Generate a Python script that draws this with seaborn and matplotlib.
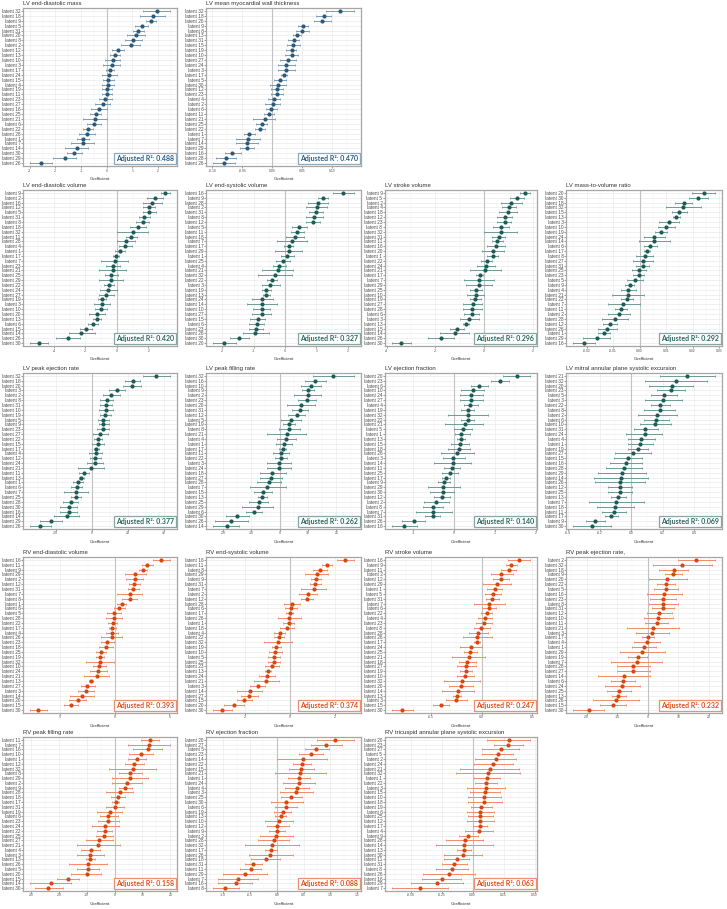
import numpy as np
import pandas as pd
import matplotlib
matplotlib.use("Agg")
import matplotlib.pyplot as plt
import seaborn as sns
from matplotlib.ticker import AutoMinorLocator

# ---------------- data ----------------
# LV end-diastolic mass
a_lat = [32, 18, 9, 5, 31, 20, 8, 2, 12, 13, 10, 3, 17, 24, 15, 4, 19, 11, 23, 27, 16, 25, 21, 6, 22, 28, 1, 7, 14, 30, 29, 26]
a_b = [1.95, 1.79, 1.73, 1.36, 1.23, 1.14, 1.04, 0.94, 0.45, 0.32, 0.23, 0.21, 0.13, 0.09, 0.06, 0.05, 0.01, 0.00, -0.05, -0.16, -0.31, -0.43, -0.45, -0.48, -0.71, -0.75, -0.91, -0.94, -1.17, -1.27, -1.62, -2.57]
a_lo = [1.43, 1.30, 1.53, 1.10, 1.04, 0.78, 0.71, 0.56, 0.22, 0.13, -0.06, -0.13, -0.03, -0.19, -0.16, -0.19, -0.19, -0.19, -0.29, -0.45, -0.62, -0.65, -0.94, -0.75, -0.91, -1.06, -1.14, -1.40, -1.62, -1.56, -2.08, -2.99]
a_hi = [2.47, 2.27, 1.92, 1.62, 1.45, 1.49, 1.36, 1.30, 0.68, 0.52, 0.52, 0.52, 0.29, 0.39, 0.30, 0.29, 0.22, 0.22, 0.19, 0.13, 0.00, -0.21, 0.03, -0.23, -0.52, -0.45, -0.70, -0.48, -0.71, -0.97, -1.19, -2.14]
a_xt = ["-3", "-2", "-1", "0", "1", "2"]

# LV mean myocardial wall thickness
b_lat = [32, 18, 20, 9, 8, 13, 31, 15, 19, 10, 27, 24, 3, 17, 5, 30, 12, 23, 4, 2, 6, 11, 21, 25, 22, 1, 7, 14, 29, 16, 28, 26]
b_b = [0.112, 0.086, 0.082, 0.051, 0.050, 0.041, 0.036, 0.034, 0.032, 0.032, 0.026, 0.023, 0.023, 0.019, 0.012, 0.009, 0.008, 0.007, 0.002, 0.001, -0.002, -0.006, -0.013, -0.018, -0.021, -0.039, -0.041, -0.042, -0.042, -0.067, -0.078, -0.081]
b_lo = [0.089, 0.073, 0.069, 0.043, 0.039, 0.034, 0.026, 0.024, 0.023, 0.021, 0.013, 0.010, 0.010, 0.014, 0.002, -0.004, -0.002, -0.003, -0.007, -0.012, -0.010, -0.014, -0.032, -0.027, -0.029, -0.048, -0.060, -0.060, -0.054, -0.079, -0.094, -0.099]
b_hi = [0.136, 0.098, 0.097, 0.059, 0.061, 0.047, 0.044, 0.046, 0.039, 0.043, 0.040, 0.037, 0.037, 0.025, 0.022, 0.023, 0.018, 0.017, 0.012, 0.013, 0.008, 0.002, 0.004, -0.009, -0.013, -0.029, -0.021, -0.024, -0.031, -0.053, -0.060, -0.063]
b_xt = ["-0.10", "-0.05", "0.00", "0.05", "0.10"]

# LV end-diastolic volume
c_lat = [9, 2, 16, 12, 5, 31, 8, 18, 32, 11, 28, 4, 1, 17, 7, 23, 21, 25, 29, 22, 24, 27, 19, 3, 10, 20, 13, 6, 15, 14, 26, 30]
c_b = [3.05, 2.42, 2.23, 2.04, 2.04, 1.75, 1.64, 1.31, 0.99, 0.91, 0.57, 0.53, 0.21, -0.04, -0.15, -0.25, -0.27, -0.36, -0.38, -0.53, -0.57, -0.69, -0.95, -0.95, -0.99, -1.26, -1.26, -1.54, -1.94, -2.25, -3.09, -4.95]
c_lo = [2.78, 1.89, 1.64, 1.68, 1.64, 1.37, 1.22, 0.80, 0.00, 0.59, 0.00, 0.11, -0.11, -0.25, -0.99, -0.67, -1.16, -0.74, -1.12, -0.84, -1.09, -1.16, -1.20, -1.43, -1.37, -1.79, -1.52, -1.85, -2.32, -3.05, -3.89, -5.52]
c_hi = [3.37, 2.95, 2.84, 2.42, 2.48, 2.11, 2.06, 1.83, 2.00, 1.26, 1.12, 0.95, 0.53, 0.15, 0.69, 0.17, 0.59, 0.04, 0.38, -0.21, 0.00, -0.21, -0.67, -0.46, -0.63, -0.74, -1.01, -1.22, -1.56, -1.37, -2.32, -4.38]
c_xt = ["-4", "-2", "0", "2"]

# LV end-systolic volume
d_lat = [16, 9, 28, 2, 31, 8, 12, 5, 11, 18, 7, 17, 29, 1, 25, 4, 21, 32, 22, 3, 19, 13, 24, 14, 10, 27, 15, 6, 23, 26, 30, 20]
d_b = [1.84, 1.22, 1.06, 1.01, 0.99, 0.93, 0.88, 0.46, 0.39, 0.32, 0.21, 0.13, 0.13, 0.07, -0.05, -0.18, -0.23, -0.32, -0.40, -0.46, -0.59, -0.59, -0.72, -0.74, -0.74, -0.74, -0.87, -0.90, -0.93, -0.94, -1.46, -1.95]
d_lo = [1.52, 1.06, 0.74, 0.67, 0.78, 0.67, 0.67, 0.21, 0.18, 0.03, -0.24, -0.03, -0.32, -0.13, -0.27, -0.39, -0.74, -0.85, -0.56, -0.74, -0.74, -0.69, -1.06, -1.22, -1.01, -1.06, -1.12, -1.14, -1.15, -1.35, -1.76, -2.29]
d_hi = [2.20, 1.38, 1.38, 1.35, 1.22, 1.20, 1.12, 0.69, 0.61, 0.61, 0.69, 0.27, 0.55, 0.29, 0.16, 0.05, 0.27, 0.24, -0.24, -0.16, -0.43, -0.48, -0.37, -0.24, -0.48, -0.43, -0.62, -0.67, -0.69, -0.50, -1.14, -1.56]
d_xt = ["-2", "-1", "0", "1", "2"]

# LV stroke volume
e_lat = [9, 5, 2, 4, 18, 12, 23, 8, 32, 31, 11, 16, 20, 1, 22, 24, 21, 17, 7, 29, 25, 10, 19, 27, 28, 6, 3, 13, 15, 14, 26, 30]
e_b = [1.69, 1.35, 1.12, 1.01, 0.99, 0.85, 0.84, 0.70, 0.68, 0.61, 0.54, 0.51, 0.38, 0.36, 0.11, 0.07, 0.04, -0.18, -0.20, -0.22, -0.34, -0.34, -0.36, -0.47, -0.49, -0.50, -0.61, -0.74, -1.11, -1.20, -1.76, -3.41]
e_lo = [1.49, 1.05, 0.68, 0.72, 0.61, 0.54, 0.54, 0.38, 0.00, 0.34, 0.31, 0.14, -0.07, 0.14, -0.14, -0.27, -0.58, -0.34, -0.81, -0.74, -0.58, -0.68, -0.58, -0.85, -0.85, -0.81, -0.99, -0.88, -1.39, -1.80, -2.30, -3.78]
e_hi = [1.89, 1.65, 1.55, 1.31, 1.35, 1.15, 1.12, 1.01, 1.35, 0.88, 0.77, 0.88, 0.81, 0.58, 0.34, 0.47, 0.68, -0.04, 0.41, 0.31, -0.09, 0.00, -0.14, -0.09, -0.09, -0.20, -0.20, -0.61, -0.81, -0.61, -1.22, -3.00]
e_xt = ["-4", "-2", "0", "2"]

# LV mass-to-volume ratio
f_lat = [20, 30, 18, 32, 15, 13, 3, 10, 19, 24, 14, 6, 17, 8, 27, 31, 25, 23, 5, 9, 4, 21, 22, 7, 11, 2, 28, 12, 26, 1, 29, 16]
f_b = [0.0241, 0.0222, 0.0167, 0.0165, 0.0148, 0.0139, 0.0110, 0.0101, 0.0081, 0.0056, 0.0056, 0.0038, 0.0028, 0.0019, 0.0013, 0.0011, -0.0004, -0.0004, -0.0019, -0.0038, -0.0042, -0.0044, -0.0048, -0.0061, -0.0071, -0.0077, -0.0092, -0.0111, -0.0122, -0.0133, -0.0162, -0.0209]
f_lo = [0.0199, 0.0186, 0.0135, 0.0101, 0.0123, 0.0127, 0.0072, 0.0068, 0.0059, 0.0018, -0.0004, 0.0015, 0.0015, -0.0013, -0.0025, -0.0013, -0.0029, -0.0025, -0.0048, -0.0054, -0.0071, -0.0105, -0.0070, -0.0118, -0.0092, -0.0118, -0.0143, -0.0137, -0.0156, -0.0156, -0.0215, -0.0251]
f_hi = [0.0284, 0.0258, 0.0199, 0.0230, 0.0177, 0.0154, 0.0148, 0.0135, 0.0104, 0.0097, 0.0114, 0.0066, 0.0041, 0.0051, 0.0051, 0.0034, 0.0025, 0.0018, 0.0013, -0.0020, -0.0013, 0.0015, -0.0025, 0.0000, -0.0048, -0.0035, -0.0042, -0.0086, -0.0084, -0.0111, -0.0111, -0.0168]
f_xt = ["-0.02", "-0.01", "0.00", "0.01", "0.02", "0.03"]

# LV peak ejection rate
g_lat = [32, 18, 20, 3, 2, 8, 31, 10, 19, 5, 9, 23, 27, 22, 15, 17, 4, 12, 24, 21, 11, 13, 1, 6, 7, 25, 28, 30, 16, 14, 29, 26]
g_b = [35.7, 22.8, 22.4, 13.9, 10.7, 8.3, 8.0, 8.0, 7.6, 6.5, 6.5, 6.1, 4.6, 3.3, 3.3, 2.6, 2.2, 2.0, 1.7, -0.4, -4.4, -5.7, -7.6, -8.3, -8.7, -8.7, -11.7, -12.8, -12.8, -13.9, -22.6, -28.7]
g_lo = [28.3, 18.7, 17.6, 9.4, 6.1, 4.6, 4.8, 3.9, 4.6, 3.3, 3.9, 2.8, 0.6, 1.1, 0.2, 1.5, -1.3, -0.9, -2.8, -7.4, -7.2, -7.2, -10.6, -11.5, -15.6, -11.5, -15.7, -17.6, -17.4, -20.7, -28.7, -34.3]
g_hi = [43.5, 26.9, 27.4, 18.5, 15.7, 12.0, 11.3, 12.0, 10.7, 9.8, 9.4, 9.4, 8.9, 5.7, 6.7, 3.9, 5.7, 5.2, 6.5, 7.0, -1.3, -4.1, -4.6, -5.4, -1.9, -5.9, -7.4, -8.1, -8.3, -7.2, -16.5, -22.6]
g_xt = ["-20", "0", "20", "40"]

# LV peak filling rate
h_lat = [32, 16, 10, 9, 2, 23, 20, 31, 12, 5, 19, 8, 21, 4, 1, 17, 11, 22, 3, 24, 18, 27, 28, 7, 15, 13, 25, 29, 6, 30, 26, 14]
h_b = [18.9, 12.4, 11.0, 10.0, 10.0, 9.6, 7.6, 7.2, 6.0, 3.9, 3.3, 3.3, 2.7, 2.3, 1.7, 1.2, 0.6, 0.5, -0.1, -0.1, -2.6, -3.2, -3.7, -4.3, -5.9, -6.2, -7.4, -7.7, -9.1, -15.0, -17.1, -18.7]
h_lo = [11.6, 8.8, 7.6, 7.9, 5.1, 6.3, 2.7, 4.5, 3.0, 0.6, 1.1, -0.4, -4.3, -1.0, -1.2, -0.1, -2.2, -1.6, -4.3, -4.3, -7.1, -7.1, -7.9, -10.4, -9.1, -7.7, -10.7, -13.2, -12.0, -18.9, -22.9, -23.5]
h_hi = [26.2, 16.3, 14.5, 12.1, 14.5, 12.8, 12.4, 10.0, 9.1, 7.6, 5.5, 7.0, 9.4, 5.7, 4.5, 2.3, 3.3, 2.7, 4.1, 4.1, 2.1, 0.9, 0.6, 2.1, -2.6, -4.6, -4.0, -2.2, -6.2, -10.7, -11.1, -14.4]
h_xt = ["-20", "-10", "0", "10", "20"]

# LV ejection fraction
i_lat = [20, 23, 6, 10, 24, 27, 4, 19, 32, 22, 21, 5, 1, 13, 15, 18, 28, 3, 14, 11, 25, 17, 9, 29, 30, 12, 2, 8, 7, 31, 26, 16]
i_b = [1.54, 1.12, 0.60, 0.46, 0.42, 0.42, 0.40, 0.34, 0.34, 0.34, 0.26, 0.21, 0.18, 0.18, 0.14, 0.12, 0.08, -0.02, -0.03, -0.06, -0.10, -0.20, -0.24, -0.26, -0.28, -0.30, -0.43, -0.51, -0.51, -0.52, -0.98, -1.22]
i_lo = [1.20, 0.90, 0.42, 0.16, 0.14, 0.14, 0.24, 0.18, -0.16, 0.16, -0.22, 0.00, 0.02, 0.06, -0.08, -0.14, -0.32, -0.28, -0.48, -0.24, -0.30, -0.30, -0.40, -0.64, -0.58, -0.50, -0.74, -0.76, -0.94, -0.70, -1.28, -1.52]
i_hi = [1.86, 1.34, 0.82, 0.74, 0.72, 0.70, 0.58, 0.50, 0.84, 0.50, 0.70, 0.44, 0.38, 0.28, 0.36, 0.38, 0.50, 0.26, 0.42, 0.14, 0.10, -0.10, -0.10, 0.14, 0.00, -0.10, -0.12, -0.26, -0.06, -0.34, -0.70, -0.90]
i_xt = ["-1", "0", "1", "2"]

# LV mitral annular plane systolic excursion
j_lat = [21, 32, 20, 23, 5, 3, 22, 8, 2, 6, 10, 31, 24, 4, 1, 19, 27, 15, 16, 28, 29, 14, 26, 12, 25, 13, 7, 18, 11, 17, 9, 30]
j_b = [0.356, 0.282, 0.261, 0.250, 0.208, 0.204, 0.182, 0.180, 0.166, 0.159, 0.151, 0.091, 0.085, 0.064, 0.059, 0.042, 0.013, -0.023, -0.032, -0.047, -0.057, -0.066, -0.070, -0.072, -0.072, -0.081, -0.096, -0.100, -0.106, -0.127, -0.227, -0.248]
j_lo = [0.180, 0.087, 0.112, 0.165, 0.123, 0.087, 0.123, 0.081, 0.045, 0.081, 0.053, 0.017, -0.032, -0.019, -0.019, -0.019, -0.100, -0.110, -0.132, -0.159, -0.210, -0.236, -0.227, -0.146, -0.146, -0.125, -0.270, -0.217, -0.185, -0.168, -0.284, -0.369]
j_hi = [0.532, 0.479, 0.390, 0.341, 0.293, 0.320, 0.244, 0.278, 0.293, 0.240, 0.250, 0.172, 0.197, 0.151, 0.138, 0.108, 0.123, 0.070, 0.070, 0.066, 0.096, 0.108, 0.091, 0.006, 0.006, -0.036, 0.081, 0.017, -0.030, -0.083, -0.168, -0.125]
j_xt = ["-0.4", "-0.2", "0.0", "0.2", "0.4"]

# RV end-diastolic volume
k_lat = [16, 11, 9, 29, 2, 12, 31, 7, 8, 1, 6, 5, 28, 22, 17, 4, 26, 23, 18, 25, 19, 32, 10, 24, 21, 13, 27, 3, 14, 20, 15, 30]
k_b = [4.24, 2.97, 2.58, 1.88, 1.82, 1.76, 1.67, 1.36, 1.36, 0.61, 0.39, -0.09, -0.12, -0.21, -0.24, -0.27, -0.30, -0.70, -0.82, -1.27, -1.36, -1.36, -1.42, -1.52, -1.67, -2.21, -2.52, -2.67, -3.00, -3.42, -4.03, -7.03]
k_lo = [3.48, 2.52, 2.21, 0.91, 1.06, 1.27, 1.21, 0.24, 0.70, 0.15, -0.09, -0.70, -0.82, -0.61, -0.52, -0.82, -1.30, -1.27, -1.42, -1.76, -1.73, -2.64, -1.97, -2.27, -2.79, -2.42, -3.12, -3.42, -4.09, -4.24, -4.64, -7.79]
k_hi = [5.06, 3.48, 2.97, 2.82, 2.58, 2.27, 2.18, 2.52, 2.06, 1.06, 0.91, 0.52, 0.61, 0.21, 0.06, 0.30, 0.70, -0.09, -0.21, -0.82, -1.00, -0.09, -0.82, -0.76, -0.55, -1.97, -1.82, -1.91, -1.91, -2.64, -3.42, -6.21]
k_xt = ["-5", "0", "5"]

# RV end-systolic volume
l_lat = [16, 11, 8, 29, 9, 31, 7, 2, 12, 28, 6, 17, 26, 1, 18, 4, 22, 32, 19, 10, 5, 25, 23, 13, 24, 21, 3, 14, 27, 15, 20, 30]
l_b = [2.44, 1.63, 1.33, 1.19, 1.14, 1.11, 1.04, 0.77, 0.74, 0.07, 0.03, -0.03, -0.04, -0.07, -0.15, -0.47, -0.52, -0.56, -0.62, -0.67, -0.71, -0.74, -0.81, -1.01, -1.04, -1.08, -1.45, -1.81, -1.82, -2.04, -2.49, -3.04]
l_lo = [2.07, 1.41, 1.01, 0.67, 0.92, 0.86, 0.47, 0.37, 0.49, -0.27, -0.22, -0.18, -0.56, -0.33, -0.44, -0.74, -0.71, -1.19, -0.81, -0.96, -1.01, -0.99, -1.11, -1.14, -1.41, -1.63, -1.78, -2.37, -2.19, -2.37, -2.93, -3.44]
l_hi = [2.84, 1.88, 1.66, 1.70, 1.36, 1.36, 1.60, 1.19, 1.01, 0.44, 0.30, 0.12, 0.47, 0.18, 0.15, -0.22, -0.30, 0.07, -0.41, -0.37, -0.44, -0.47, -0.52, -0.86, -0.67, -0.52, -1.11, -1.26, -1.45, -1.70, -2.04, -2.59]
l_xt = ["-2", "0", "2"]

# RV stroke volume
m_lat = [16, 9, 11, 2, 12, 29, 1, 5, 31, 7, 6, 22, 4, 23, 8, 28, 26, 17, 24, 25, 21, 18, 27, 19, 10, 32, 20, 14, 13, 3, 15, 30]
m_b = [0.371, 0.293, 0.267, 0.195, 0.189, 0.153, 0.130, 0.114, 0.104, 0.072, 0.072, 0.049, 0.033, 0.023, -0.003, -0.033, -0.049, -0.049, -0.107, -0.111, -0.130, -0.147, -0.156, -0.156, -0.163, -0.199, -0.202, -0.238, -0.244, -0.254, -0.401, -0.792]
m_lo = [0.261, 0.241, 0.195, 0.088, 0.114, 0.013, 0.055, 0.033, 0.039, -0.081, 0.000, -0.010, -0.036, -0.059, -0.081, -0.130, -0.189, -0.081, -0.212, -0.179, -0.293, -0.228, -0.248, -0.212, -0.248, -0.375, -0.319, -0.391, -0.280, -0.358, -0.482, -0.889]
m_hi = [0.479, 0.349, 0.339, 0.306, 0.267, 0.293, 0.202, 0.195, 0.176, 0.235, 0.143, 0.104, 0.104, 0.104, 0.081, 0.065, 0.098, -0.020, 0.000, -0.042, 0.033, -0.052, -0.059, -0.101, -0.075, -0.020, -0.085, -0.075, -0.205, -0.147, -0.319, -0.684]
m_xt = ["-0.5", "0.0", "0.5"]

# RV peak ejection rate
n_lat = [2, 32, 18, 9, 20, 22, 5, 16, 23, 8, 31, 12, 10, 11, 21, 3, 17, 4, 1, 29, 19, 7, 28, 27, 14, 6, 24, 25, 13, 26, 15, 30]
n_b = [15.9, 11.3, 8.7, 8.4, 6.4, 6.0, 5.9, 5.4, 5.0, 5.0, 5.0, 3.6, 3.4, 3.0, 1.7, 1.3, 0.0, -0.3, -1.1, -1.7, -3.3, -3.6, -4.7, -4.9, -7.8, -8.0, -8.3, -9.4, -9.7, -10.4, -11.3, -19.3]
n_lo = [9.8, 1.7, 3.6, 5.8, 0.3, 3.1, 2.0, -0.3, 0.9, 0.3, 1.3, -0.2, -1.3, -0.8, -6.9, -3.9, -2.0, -4.4, -5.0, -9.1, -6.4, -12.0, -10.0, -10.0, -16.1, -12.0, -13.9, -13.3, -11.7, -18.0, -15.6, -24.4]
n_hi = [22.0, 20.9, 13.3, 11.3, 12.8, 9.1, 9.8, 11.3, 9.4, 9.8, 8.7, 7.8, 8.3, 6.7, 10.3, 6.9, 2.0, 3.9, 2.8, 5.8, -0.2, 4.8, 0.8, 0.6, 0.8, -4.2, -2.6, -5.6, -7.2, -2.8, -7.2, -14.4]
n_xt = ["-20", "-10", "0", "10", "20"]

# RV peak filling rate
o_lat = [11, 7, 16, 10, 1, 12, 32, 8, 29, 2, 9, 28, 18, 17, 31, 19, 6, 23, 24, 22, 25, 27, 21, 4, 3, 13, 26, 5, 20, 15, 14, 30]
o_b = [12.7, 12.5, 11.9, 9.5, 8.0, 6.9, 6.5, 5.6, 5.4, 4.4, 3.9, 1.8, 1.2, 0.4, 0.0, -1.8, -2.3, -2.3, -3.5, -3.6, -3.8, -5.6, -5.8, -8.6, -8.7, -8.7, -9.5, -9.6, -10.1, -16.9, -22.9, -23.9]
o_lo = [9.5, 4.8, 6.5, 5.1, 4.8, 3.6, -2.0, 1.5, -0.8, -0.8, 1.5, -3.0, -1.2, -0.8, -3.2, -6.3, -5.4, -6.0, -8.3, -6.3, -6.8, -10.4, -13.5, -11.9, -13.5, -10.4, -16.3, -13.5, -15.5, -20.8, -30.4, -28.7]
o_hi = [16.1, 19.9, 17.0, 13.9, 11.3, 10.4, 14.9, 9.9, 11.9, 9.9, 6.3, 6.5, 3.9, 1.5, 3.2, 2.7, 1.2, 1.5, 1.5, -0.8, -0.6, -0.4, 2.0, -5.1, -3.9, -7.1, -2.7, -5.6, -4.8, -12.7, -15.6, -18.7]
o_xt = ["-30", "-20", "-10", "0", "10", "20"]

# RV ejection fraction
p_lat = [20, 27, 5, 23, 14, 22, 15, 21, 1, 24, 4, 3, 25, 30, 6, 19, 13, 10, 12, 9, 2, 28, 32, 17, 26, 18, 31, 11, 29, 7, 16, 8]
p_b = [1.09, 0.92, 0.74, 0.64, 0.48, 0.47, 0.45, 0.43, 0.42, 0.41, 0.38, 0.36, 0.27, 0.18, 0.17, 0.11, 0.08, 0.04, 0.01, 0.00, -0.02, -0.06, -0.09, -0.11, -0.12, -0.21, -0.44, -0.49, -0.60, -0.72, -0.77, -0.96]
p_lo = [0.75, 0.64, 0.52, 0.41, 0.01, 0.30, 0.22, -0.03, 0.20, 0.11, 0.16, 0.06, 0.08, -0.11, -0.03, -0.05, -0.03, -0.22, -0.18, -0.14, -0.32, -0.36, -0.60, -0.22, -0.52, -0.49, -0.60, -0.68, -1.01, -1.09, -1.09, -1.19]
p_hi = [1.44, 1.21, 0.97, 0.87, 0.94, 0.64, 0.69, 0.91, 0.62, 0.72, 0.61, 0.67, 0.47, 0.48, 0.37, 0.26, 0.18, 0.31, 0.22, 0.16, 0.30, 0.23, 0.42, 0.01, 0.30, 0.06, -0.27, -0.30, -0.19, -0.36, -0.47, -0.70]
p_xt = ["-1.0", "-0.5", "0.0", "0.5", "1.0", "1.5"]

# RV tricuspid annular plane systolic excursion
q_lat = [20, 23, 27, 5, 2, 24, 21, 32, 1, 22, 3, 15, 10, 18, 19, 6, 25, 12, 17, 4, 9, 28, 14, 13, 30, 11, 31, 8, 26, 16, 29, 7]
q_b = [0.291, 0.283, 0.228, 0.201, 0.185, 0.161, 0.138, 0.124, 0.114, 0.108, 0.106, 0.101, 0.095, 0.093, 0.069, 0.063, 0.061, 0.058, 0.058, 0.050, -0.040, -0.063, -0.066, -0.071, -0.077, -0.130, -0.153, -0.169, -0.190, -0.251, -0.288, -0.421]
q_lo = [0.119, 0.172, 0.079, 0.079, 0.019, 0.008, -0.101, -0.138, 0.013, 0.019, -0.045, -0.021, -0.034, -0.034, -0.013, -0.045, -0.040, -0.045, 0.005, -0.061, -0.114, -0.212, -0.299, -0.124, -0.230, -0.233, -0.251, -0.299, -0.402, -0.410, -0.495, -0.651]
q_hi = [0.463, 0.402, 0.376, 0.323, 0.349, 0.323, 0.376, 0.384, 0.217, 0.198, 0.259, 0.220, 0.230, 0.233, 0.153, 0.172, 0.167, 0.172, 0.114, 0.164, 0.045, 0.085, 0.167, -0.013, 0.074, -0.026, -0.048, -0.034, 0.021, -0.090, -0.079, -0.196]
q_xt = ["-0.50", "-0.25", "0.00", "0.25", "0.50"]

titles = ["LV end-diastolic mass", "LV mean myocardial wall thickness",
          "LV end-diastolic volume", "LV end-systolic volume", "LV stroke volume", "LV mass-to-volume ratio",
          "LV peak ejection rate", "LV peak filling rate", "LV ejection fraction",
          "LV mitral annular plane systolic excursion",
          "RV end-diastolic volume", "RV end-systolic volume", "RV stroke volume", "RV peak ejection rate,",
          "RV peak filling rate", "RV ejection fraction", "RV tricuspid annular plane systolic excursion"]
r2_values = ["0.488", "0.470", "0.420", "0.327", "0.296", "0.292", "0.377", "0.262", "0.140", "0.069",
             "0.393", "0.374", "0.247", "0.232", "0.158", "0.088", "0.063"]

# ---------------- style ----------------
W, H = 727, 909
col_px = [(23, 177), (206, 361), (385, 537), (566, 722)]
row_px = [(8, 166), (190, 346), (373, 529), (557, 713), (737, 891)]
grid_pos = [(0, 0), (0, 1),
            (1, 0), (1, 1), (1, 2), (1, 3),
            (2, 0), (2, 1), (2, 2), (2, 3),
            (3, 0), (3, 1), (3, 2), (3, 3),
            (4, 0), (4, 1), (4, 2)]
pal_lv1 = dict(pt="#2b5a7c", bar="#7d9db6", txt="#2e5b7d", edge="#8ea8bc")
pal_lv2 = dict(pt="#1d5c56", bar="#6b9b95", txt="#2a655f", edge="#84a7a2")
pal_rv = dict(pt="#d9470f", bar="#ee8b67", txt="#df4e1b", edge="#ec8f73")
palettes = [pal_lv1] * 2 + [pal_lv2] * 8 + [pal_rv] * 7

data = [(a_lat, a_b, a_lo, a_hi, a_xt), (b_lat, b_b, b_lo, b_hi, b_xt),
        (c_lat, c_b, c_lo, c_hi, c_xt), (d_lat, d_b, d_lo, d_hi, d_xt),
        (e_lat, e_b, e_lo, e_hi, e_xt), (f_lat, f_b, f_lo, f_hi, f_xt),
        (g_lat, g_b, g_lo, g_hi, g_xt), (h_lat, h_b, h_lo, h_hi, h_xt),
        (i_lat, i_b, i_lo, i_hi, i_xt), (j_lat, j_b, j_lo, j_hi, j_xt),
        (k_lat, k_b, k_lo, k_hi, k_xt), (l_lat, l_b, l_lo, l_hi, l_xt),
        (m_lat, m_b, m_lo, m_hi, m_xt), (n_lat, n_b, n_lo, n_hi, n_xt),
        (o_lat, o_b, o_lo, o_hi, o_xt), (p_lat, p_b, p_lo, p_hi, p_xt),
        (q_lat, q_b, q_lo, q_hi, q_xt)]

sns.set_theme(style="whitegrid")
plt.rcParams['font.family'] = ['Liberation Sans', 'DejaVu Sans']

fig = plt.figure(figsize=(W / 100, H / 100), dpi=100)
fig.patch.set_facecolor("white")

for idx, (lat, b, lo, hi, xt) in enumerate(data):
    r, c = grid_pos[idx]
    x0, x1 = col_px[c]
    y0, y1 = row_px[r]
    ax = fig.add_axes([x0 / W, 1 - y1 / H, (x1 - x0) / W, (y1 - y0) / H])
    pal = palettes[idx]
    labels = [f"latent {v}" for v in lat]
    df = pd.DataFrame({"latent": labels, "coef": b, "lo": lo, "hi": hi})
    n = len(df)
    ypos = np.arange(n)

    ax.axvline(0, color="#c2c2c2", lw=0.8, zorder=1)
    ax.errorbar(df["coef"], ypos, xerr=[df["coef"] - df["lo"], df["hi"] - df["coef"]],
                fmt="none", ecolor=pal["bar"], elinewidth=0.7, capsize=1.0, capthick=0.6, zorder=2)
    sns.stripplot(data=df, x="coef", y="latent", order=labels, jitter=False,
                  color=pal["pt"], size=3.0, linewidth=0, ax=ax, zorder=3)

    span = df["hi"].max() - df["lo"].min()
    ax.set_xlim(df["lo"].min() - 0.05 * span, df["hi"].max() + 0.05 * span)
    ax.set_ylim(n - 1 + 0.6, -0.6)
    ax.set_xticks([float(t) for t in xt])
    ax.set_xticklabels(xt)
    ax.xaxis.set_minor_locator(AutoMinorLocator(2))
    ax.set_axisbelow(True)
    ax.grid(which="major", axis="both", color="#ebebeb", lw=0.5)
    ax.grid(which="minor", axis="x", color="#f3f3f3", lw=0.35)
    for s in ax.spines.values():
        s.set_color("#a6a6a6")
        s.set_linewidth(0.9)
    ax.tick_params(axis="x", which="major", bottom=True, labelsize=2.4, length=1.2, width=0.4,
                   pad=0.6, color="#555555", labelcolor="#4d4d4d")
    ax.tick_params(axis="x", which="minor", bottom=False)
    ax.tick_params(axis="y", left=True, labelsize=3.4, length=1.2, width=0.4, pad=0.6,
                   color="#555555", labelcolor="#4d4d4d")
    ax.set_xlabel("Coefficient", fontsize=3.2, labelpad=0.8, color="#333333")
    ax.set_ylabel("")
    ax.set_title(titles[idx], loc="left", fontsize=4.3, pad=2.2, color="#333333")
    ax.text(0.982, 0.027, f"Adjusted R\u00b2: {r2_values[idx]}", transform=ax.transAxes,
            ha="right", va="bottom", fontsize=5.0, fontweight="bold", color=pal["txt"],
            family=["Lato", "DejaVu Sans"], zorder=5,
            bbox=dict(boxstyle="square,pad=0.28", fc="white", ec=pal["edge"], lw=0.9))

fig.savefig("out.png", dpi=100, facecolor="white")
